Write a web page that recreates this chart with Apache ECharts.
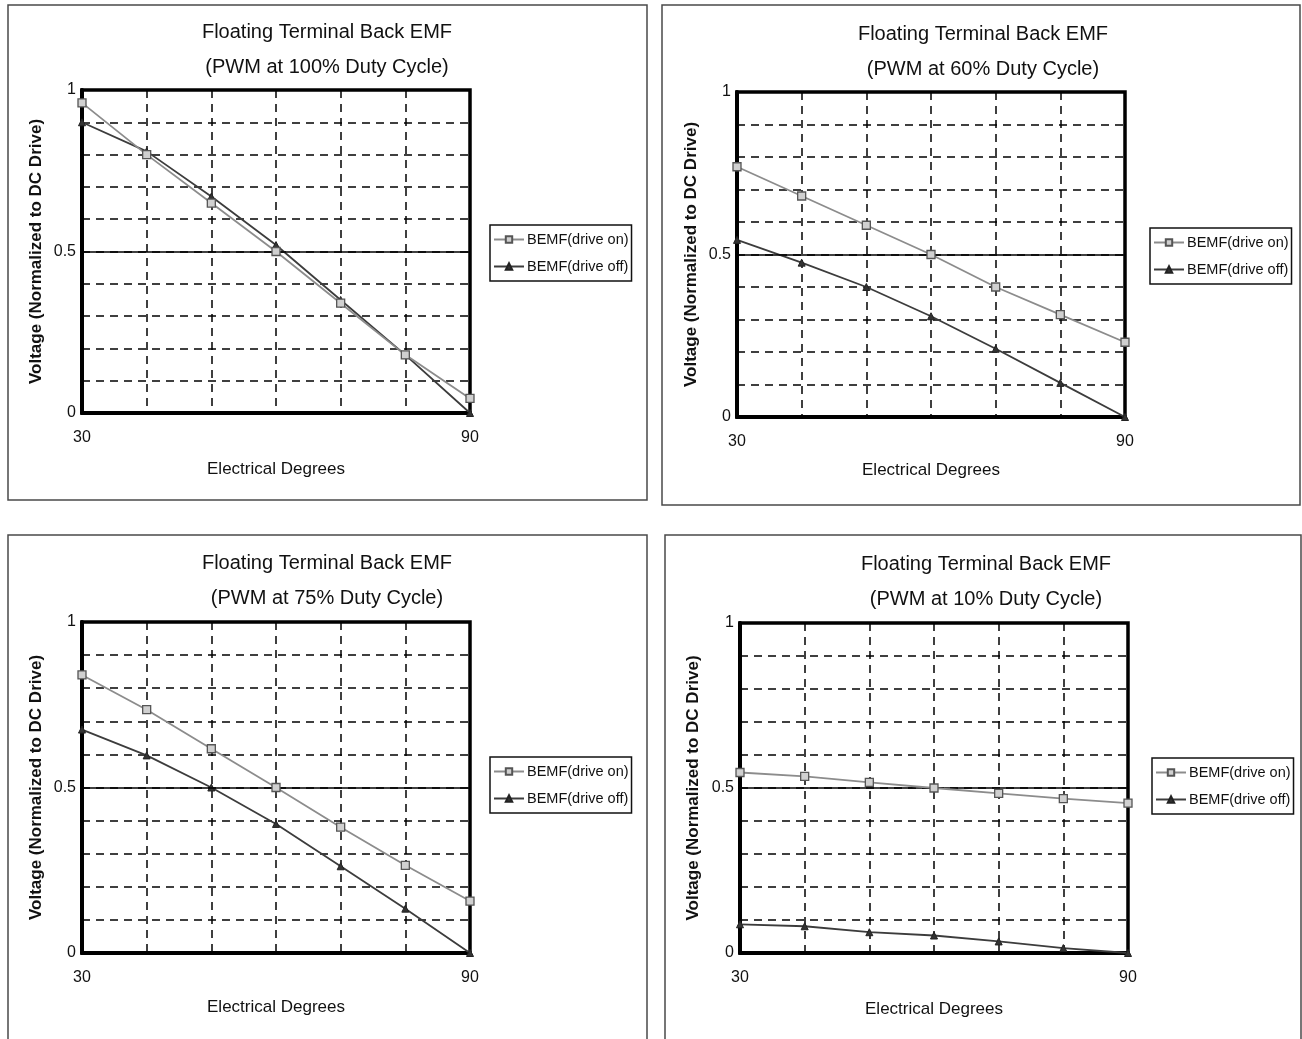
<!DOCTYPE html>
<html>
<head>
<meta charset="utf-8">
<script src="https://cdn.jsdelivr.net/npm/echarts@6/dist/echarts.min.js"></script>
<style>
html,body{margin:0;padding:0;background:#fff;}
#chart{width:1302px;height:1039px;}
</style>
</head>
<body>
<div id="chart"></div>
<script>
// ---- data ----
const xDegrees = [30, 40, 50, 60, 70, 80, 90];
const xTickLabels = [30, 90];
const yTickLabels = [0, 0.5, 1];
const seriesNames = ['BEMF(drive on)', 'BEMF(drive off)'];
const mainTitle = 'Floating Terminal Back EMF';
const subTitles = ['(PWM at 100% Duty Cycle)', '(PWM at 60% Duty Cycle)', '(PWM at 75% Duty Cycle)', '(PWM at 10% Duty Cycle)'];
const xAxisName = 'Electrical Degrees';
const yAxisName = 'Voltage (Normalized to DC Drive)';

const on100  = [0.96, 0.80, 0.65, 0.50, 0.34, 0.18, 0.045];
const off100 = [0.90, 0.81, 0.67, 0.52, 0.35, 0.18, 0];
const on60   = [0.77, 0.68, 0.59, 0.50, 0.40, 0.315, 0.23];
const off60  = [0.545, 0.475, 0.40, 0.31, 0.21, 0.105, 0];
const on75   = [0.84, 0.735, 0.617, 0.50, 0.38, 0.265, 0.157];
const off75  = [0.675, 0.597, 0.50, 0.39, 0.262, 0.134, 0];
const on10   = [0.547, 0.535, 0.517, 0.50, 0.484, 0.468, 0.454];
const off10  = [0.087, 0.081, 0.063, 0.053, 0.035, 0.015, 0];

const panelData = [[on100, off100], [on60, off60], [on75, off75], [on10, off10]];

// ---- layout (pixels) ----
const layout = [
  {box:[8,5,639,495],     grid:[82,90,388,323],  title:[322,10],  legend:[490,225],  xGap:48, yGap:37},
  {box:[662,5,638,500],   grid:[737,92,388,325], title:[978,12],  legend:[1150,228], xGap:45, yGap:37},
  {box:[8,535,639,520],   grid:[82,622,388,331], title:[322,541], legend:[490,757],  xGap:46, yGap:37},
  {box:[665,535,636,520], grid:[740,623,388,330], title:[981,542], legend:[1152,758], xGap:48, yGap:38}
];

const FONT = 'Liberation Sans, Arial, sans-serif';
const TXT = '#111111';

const option = {
  backgroundColor: '#fff',
  animation: false,
  title: [], legend: [], grid: [], xAxis: [], yAxis: [], series: [],
  graphic: []
};

function pair(xs, ys) { return xs.map((x, i) => [x, ys[i]]); }

layout.forEach((L, i) => {
  option.graphic.push({
    type: 'rect', silent: true, z: -1,
    shape: {x: L.box[0], y: L.box[1], width: L.box[2], height: L.box[3]},
    style: {fill: 'none', stroke: '#4a4a4a', lineWidth: 1.5}
  });
  option.title.push({
    text: mainTitle + '\n' + subTitles[i],
    left: L.title[0], top: L.title[1], textAlign: 'center',
    textStyle: {fontFamily: FONT, fontSize: 20, fontWeight: 'normal', color: TXT, lineHeight: 35}
  });
  option.legend.push({
    orient: 'vertical', left: L.legend[0], top: L.legend[1],
    data: seriesNames, selectedMode: false,
    borderColor: '#111', borderWidth: 1.5, borderRadius: 0,
    padding: [7, 3, 7, 3], itemGap: 12, itemWidth: 30, itemHeight: 8,
    textStyle: {fontFamily: FONT, fontSize: 14.5, color: TXT, padding: [0, 0, 0, -2]}
  });
  option.grid.push({
    left: L.grid[0], top: L.grid[1], width: L.grid[2], height: L.grid[3],
    show: true, borderColor: '#000', borderWidth: 3.5, backgroundColor: 'transparent',
    containLabel: false
  });
  option.xAxis.push({
    type: 'value', gridIndex: i, min: 30, max: 90, interval: 10,
    name: xAxisName, nameLocation: 'middle', nameGap: L.xGap,
    nameTextStyle: {fontFamily: FONT, fontSize: 17, color: TXT},
    axisLine: {show: true, onZero: false, lineStyle: {color: '#000', width: 4}},
    axisTick: {show: false},
    axisLabel: {
      fontFamily: FONT, fontSize: 16, color: TXT, margin: 17,
      formatter: v => (xTickLabels.indexOf(Math.round(v)) >= 0 ? String(Math.round(v)) : '')
    },
    splitLine: {show: true, lineStyle: {color: '#000', width: 1.5, type: [8, 6]}}
  });
  option.yAxis.push({
    type: 'value', gridIndex: i, min: 0, max: 1, interval: 0.1,
    name: yAxisName, nameLocation: 'middle', nameGap: L.yGap,
    nameTextStyle: {fontFamily: FONT, fontSize: 17, fontWeight: 'bold', color: TXT},
    axisLine: {show: true, onZero: false, lineStyle: {color: '#000', width: 4}},
    axisTick: {show: false},
    axisLabel: {
      fontFamily: FONT, fontSize: 16, color: TXT, margin: 6,
      formatter: v => {
        const hit = yTickLabels.find(t => Math.abs(t - v) < 1e-6);
        return hit === undefined ? '' : String(hit);
      }
    },
    splitLine: {show: true, lineStyle: {color: '#000', width: 1.5, type: [8, 6]}}
  });
  const [onVals, offVals] = panelData[i];
  option.series.push({
    name: seriesNames[0], type: 'line', xAxisIndex: i, yAxisIndex: i,
    data: pair(xDegrees, onVals),
    symbol: 'rect', symbolSize: 8, z: 5,
    lineStyle: {color: '#8c8c8c', width: 1.8},
    itemStyle: {color: '#d0d0d0', borderColor: '#555', borderWidth: 1.3},
    markLine: {
      silent: true, symbol: 'none', label: {show: false},
      lineStyle: {color: '#000', width: 1.5, type: 'solid'},
      data: [{yAxis: 0.5}]
    }
  });
  option.series.push({
    name: seriesNames[1], type: 'line', xAxisIndex: i, yAxisIndex: i,
    data: pair(xDegrees, offVals),
    symbol: 'triangle', symbolSize: 7, z: 4,
    lineStyle: {color: '#3c3c3c', width: 1.8},
    itemStyle: {color: '#333', borderColor: '#222', borderWidth: 1}
  });
});

const chart = echarts.init(document.getElementById('chart'), null, {renderer: 'canvas'});
chart.setOption(option);
</script>
</body>
</html>
